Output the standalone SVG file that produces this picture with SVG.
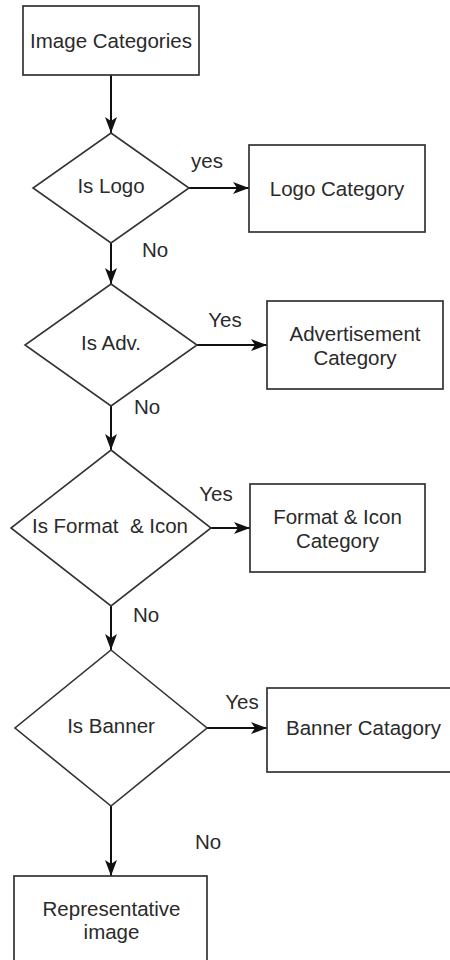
<svg xmlns="http://www.w3.org/2000/svg" width="450" height="960" viewBox="0 0 450 960">
<style>
.box{fill:#fff;stroke:#333;stroke-width:1.7}
.dia{fill:#fff;stroke:#333;stroke-width:1.6}
.t{font-family:"Liberation Sans",Arial,sans-serif;font-size:20.5px;fill:#2a2a2a;text-anchor:middle}
.lbl{font-family:"Liberation Sans",Arial,sans-serif;font-size:20.5px;fill:#2a2a2a;text-anchor:middle}
.edge{stroke:#111;stroke-width:2;fill:none;marker-end:url(#arr)}
</style>
<defs>
<marker id="arr" markerUnits="userSpaceOnUse" viewBox="0 0 16 12" refX="16" refY="6" markerWidth="16" markerHeight="12" orient="auto">
<path d="M0,0 L16,6 L0,12 L4,6 Z" fill="#111"/>
</marker>
</defs>
<rect width="450" height="960" fill="#fff"/>
<g id="connectors">
<line class="edge" x1="111" y1="75" x2="111" y2="133"/>
<line class="edge" x1="189" y1="188" x2="249" y2="188"/>
<line class="edge" x1="111" y1="243" x2="111" y2="284"/>
<line class="edge" x1="197" y1="345" x2="267" y2="345"/>
<line class="edge" x1="111" y1="406" x2="111" y2="450"/>
<line class="edge" x1="211" y1="528" x2="250" y2="528"/>
<line class="edge" x1="111" y1="606" x2="111" y2="650"/>
<line class="edge" x1="207" y1="728" x2="267" y2="728"/>
<line class="edge" x1="111" y1="806" x2="111" y2="876"/>
<text class="lbl" x="207" y="168">yes</text>
<text class="lbl" x="155" y="257">No</text>
<text class="lbl" x="225" y="327">Yes</text>
<text class="lbl" x="147" y="414">No</text>
<text class="lbl" x="216" y="501">Yes</text>
<text class="lbl" x="146" y="622">No</text>
<text class="lbl" x="242" y="709">Yes</text>
<text class="lbl" x="208" y="849">No</text>
</g>
<g id="image-categories">
<rect class="box" x="23" y="6" width="176" height="69"/>
<text class="t" x="111" y="48">Image Categories</text>
</g>
<g id="is-logo">
<polygon class="dia" points="111,133 189,188 111,243 33,188"/>
<text class="t" x="111" y="193">Is Logo</text>
</g>
<g id="logo-category">
<rect class="box" x="249" y="145" width="176" height="87"/>
<text class="t" x="337" y="196">Logo Category</text>
</g>
<g id="is-adv">
<polygon class="dia" points="111,284 197,345 111,406 25,345"/>
<text class="t" x="111" y="350">Is Adv.</text>
</g>
<g id="advertisement-category">
<rect class="box" x="267" y="301" width="176" height="88"/>
<text class="t" x="355" y="341">Advertisement</text>
<text class="t" x="355" y="365">Category</text>
</g>
<g id="is-format-icon">
<polygon class="dia" points="111,450 211,528 111,606 11,528"/>
<text class="t" x="110" y="533" xml:space="preserve">Is Format  &amp; Icon</text>
</g>
<g id="format-icon-category">
<rect class="box" x="250" y="484" width="175" height="88"/>
<text class="t" x="337.5" y="524">Format &amp; Icon</text>
<text class="t" x="337.5" y="548">Category</text>
</g>
<g id="is-banner">
<polygon class="dia" points="111,650 207,728 111,806 15,728"/>
<text class="t" x="111" y="733">Is Banner</text>
</g>
<g id="banner-category">
<rect class="box" x="267" y="688" width="190" height="84"/>
<text class="t" x="363.5" y="735">Banner Catagory</text>
</g>
<g id="representative-image">
<rect class="box" x="14" y="876" width="193" height="100"/>
<text class="t" x="111.5" y="916">Representative</text>
<text class="t" x="111.5" y="939">image</text>
</g>
</svg>
